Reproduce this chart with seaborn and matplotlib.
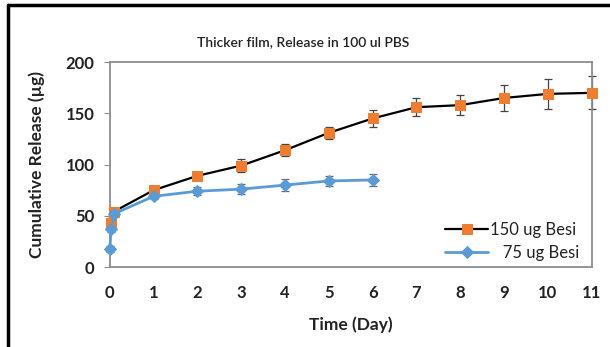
import matplotlib
matplotlib.use("Agg")
import matplotlib.pyplot as plt
import seaborn as sns
import pandas as pd
from matplotlib.lines import Line2D

# Data
t_150 = [0.02, 0.09, 1, 2, 3, 4, 5, 6, 7, 8, 9, 10, 11]
rel_150 = [43, 54, 75, 89, 99, 114, 131, 145, 156, 158, 165, 169, 170]
err_150 = [5, 4, 3, 4, 6, 6, 6, 8, 9, 10, 13, 15, 16]

t_75 = [0.0, 0.03, 0.1, 1, 2, 3, 4, 5, 6]
rel_75 = [18, 37, 52, 69, 74, 76, 80, 84, 85]
err_75 = [3, 3, 3, 3, 4, 5, 6, 5, 6]

series_labels = ["150 ug Besi", "   75 ug Besi"]
xticks = list(range(0, 12))
yticks = [0, 50, 100, 150, 200]

sns.set_theme(style="white")
plt.rcParams['font.family'] = ['Lato', 'DejaVu Sans']

ORANGE = "#ED7D31"
BLUE = "#5B9BD5"
GRAY = "#8c8c8c"
TXT = "#222222"

fig = plt.figure(figsize=(6.10, 3.47), dpi=100)
ax = fig.add_axes([0.180, 0.2305, 0.790, 0.5905])

df150 = pd.DataFrame({"t": t_150, "v": rel_150})
df75 = pd.DataFrame({"t": t_75, "v": rel_75})

eb1 = ax.errorbar(t_150, rel_150, yerr=err_150, fmt='none', ecolor="#444444",
                  elinewidth=0.9, capsize=3, capthick=0.9, zorder=2)
eb2 = ax.errorbar(t_75, rel_75, yerr=err_75, fmt='none', ecolor="#666666",
                  elinewidth=0.9, capsize=3, capthick=0.9, zorder=2)
for eb in (eb1, eb2):
    for art in eb.lines[1] + eb.lines[2]:
        art.set_clip_on(False)

sns.lineplot(data=df150, x="t", y="v", ax=ax, color="black", linewidth=1.6,
             marker="s", markersize=7, markerfacecolor=ORANGE,
             markeredgecolor=ORANGE, zorder=3, label=series_labels[0])
sns.lineplot(data=df75, x="t", y="v", ax=ax, color=BLUE, linewidth=2.0,
             marker="D", markersize=6, markerfacecolor=BLUE,
             markeredgecolor=BLUE, zorder=4, label=series_labels[1])
for ln in ax.lines:
    ln.set_clip_on(False)

ax.set_xlim(0, 11)
ax.set_ylim(0, 200)
ax.set_xticks(xticks)
ax.set_yticks(yticks)
ax.set_xticklabels([str(x) for x in xticks], fontsize=12, fontweight='bold', color=TXT)
ax.set_yticklabels([str(y) for y in yticks], fontsize=12, fontweight='bold', color=TXT)
ax.tick_params(axis='x', length=0, pad=13)
ax.tick_params(axis='y', length=4, width=0.8, color=GRAY, direction='out', pad=7, left=True)

for s in ax.spines.values():
    s.set_color(GRAY)
    s.set_linewidth(1.3)
    s.set_visible(True)

ax.set_xlabel("Time (Day)", fontsize=12.5, fontweight='bold', color=TXT, labelpad=11)
ax.set_ylabel("Cumulative Release (µg)", fontsize=12.5, fontweight='bold', color=TXT, labelpad=15)
fig.text(0.497, 1 - 42/347, "Thicker film, Release in 100 ul PBS", fontsize=10,
         color=TXT, ha='center', va='center', fontweight='semibold')

leg = ax.legend(loc="lower right", frameon=False, fontsize=12, handlelength=2.6,
                handletextpad=0.1, borderaxespad=0.2, labelspacing=0.45,
                bbox_to_anchor=(0.995, -0.02))
for txt in leg.get_texts():
    txt.set_color(TXT)

# outer frame (left & top edges visible)
fig.add_artist(Line2D([8/610, 8/610], [0, 1 - 5/347], transform=fig.transFigure,
                      color="black", linewidth=2.5))
fig.add_artist(Line2D([8/610, 1], [1 - 5/347, 1 - 5/347], transform=fig.transFigure,
                      color="black", linewidth=2.5))

fig.savefig("out.png", dpi=100)
